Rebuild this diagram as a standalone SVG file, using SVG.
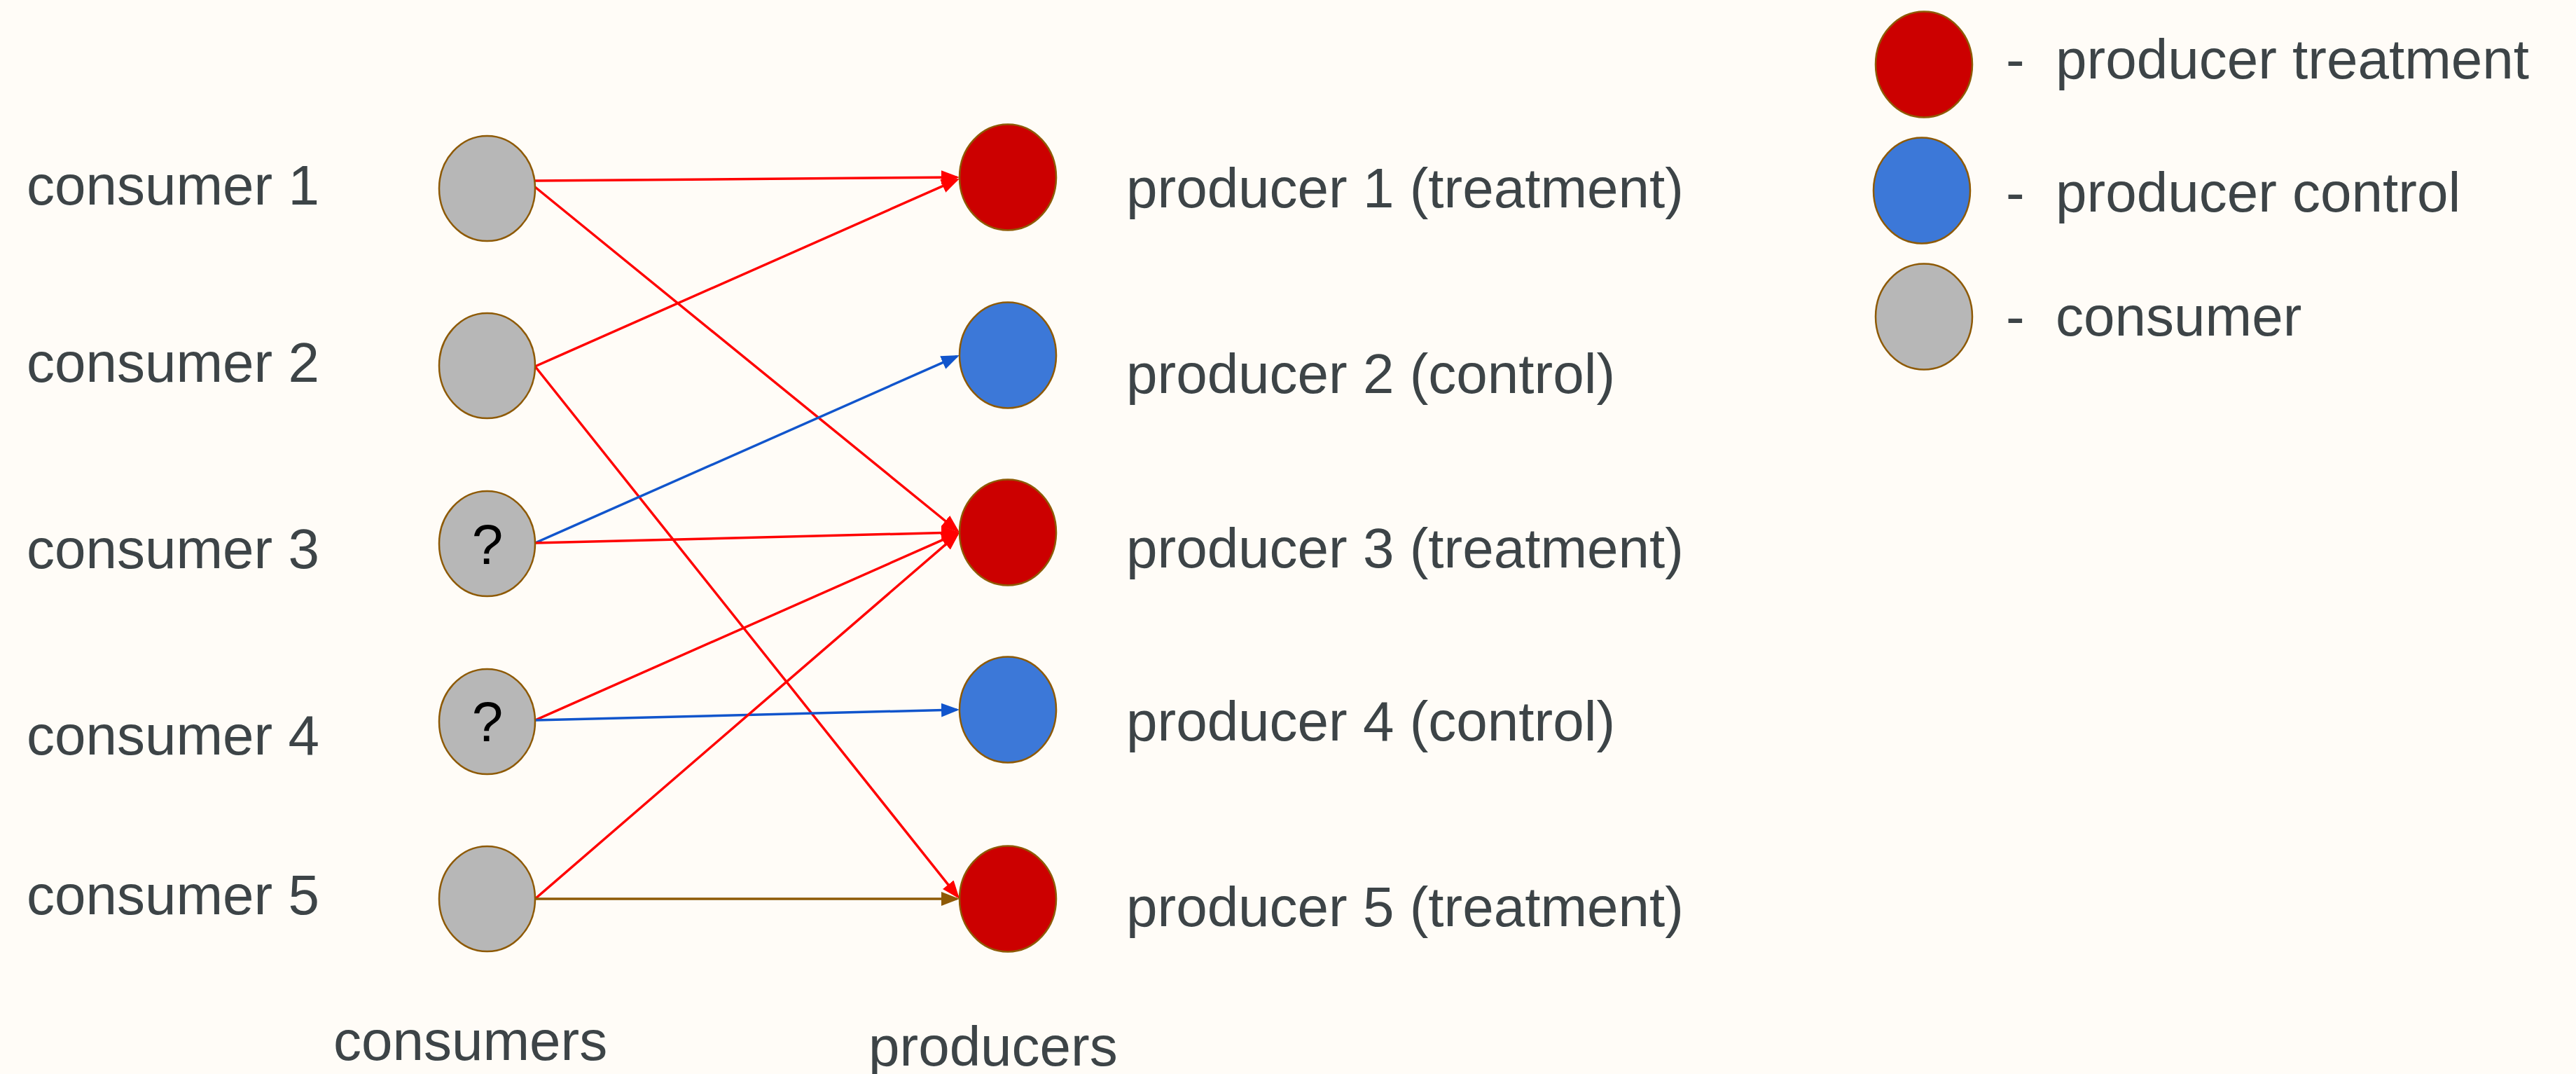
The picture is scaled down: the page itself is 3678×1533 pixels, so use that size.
<svg xmlns="http://www.w3.org/2000/svg" width="3678" height="1533" viewBox="0 0 3678 1533">
<style>
text{font-family:"Liberation Sans",Arial,sans-serif;font-size:80px;fill:#3d4447}
.q{fill:#000;text-anchor:middle}
.pre{white-space:pre}
.nd{stroke:#8e5a06;stroke-width:2.5}
.cons{fill:#b7b7b7}
.trt{fill:#cc0000}
.ctl{fill:#3c78d8}
.e{fill:none;stroke-width:3.5}
.r{stroke:#ff0000}
.b{stroke:#1155cc}
.br{stroke:#8e5a06}
</style>
<defs>
<marker id="ar" markerUnits="userSpaceOnUse" markerWidth="26" markerHeight="20" refX="22" refY="10" orient="auto" viewBox="0 0 26 20"><path d="M0,0 L26,10 L0,20 z" fill="#ff0000"/></marker>
<marker id="ab" markerUnits="userSpaceOnUse" markerWidth="26" markerHeight="20" refX="22" refY="10" orient="auto" viewBox="0 0 26 20"><path d="M0,0 L26,10 L0,20 z" fill="#1155cc"/></marker>
<marker id="abr" markerUnits="userSpaceOnUse" markerWidth="26" markerHeight="20" refX="22" refY="10" orient="auto" viewBox="0 0 26 20"><path d="M0,0 L26,10 L0,20 z" fill="#8e5a06"/></marker>
</defs>
<rect width="3678" height="1533" fill="#fffcf7"/>

<g id="connectors">
<line class="e r" x1="764" y1="258" x2="1366" y2="253" marker-end="url(#ar)"/>
<line class="e r" x1="764" y1="267" x2="1366.9" y2="757.5" marker-end="url(#ar)"/>
<line class="e r" x1="764" y1="523" x2="1366.3" y2="256.6" marker-end="url(#ar)"/>
<line class="e r" x1="764" y1="523" x2="1367.5" y2="1279.9" marker-end="url(#ar)"/>
<line class="e b" x1="764" y1="775" x2="1366.3" y2="508.6" marker-end="url(#ab)"/>
<line class="e r" x1="764" y1="775" x2="1366" y2="760" marker-end="url(#ar)"/>
<line class="e r" x1="764" y1="1028" x2="1366.3" y2="761.6" marker-end="url(#ar)"/>
<line class="e b" x1="764" y1="1028" x2="1366" y2="1013" marker-end="url(#ab)"/>
<line class="e r" x1="764" y1="1283" x2="1367" y2="762.6" marker-end="url(#ar)"/>
<line class="e br" x1="764" y1="1283" x2="1366" y2="1283" marker-end="url(#abr)"/>
</g>

<g id="consumer1"><ellipse class="nd cons" cx="695.5" cy="269" rx="68.5" ry="75"/><text x="38" y="292">consumer 1</text></g>
<g id="consumer2"><ellipse class="nd cons" cx="695.5" cy="522" rx="68.5" ry="75"/><text x="38" y="545">consumer 2</text></g>
<g id="consumer3"><ellipse class="nd cons" cx="695.5" cy="776" rx="68.5" ry="75"/><text class="q" x="696" y="805">?</text><text x="38" y="811">consumer 3</text></g>
<g id="consumer4"><ellipse class="nd cons" cx="695.5" cy="1030" rx="68.5" ry="75"/><text class="q" x="696" y="1058">?</text><text x="38" y="1077">consumer 4</text></g>
<g id="consumer5"><ellipse class="nd cons" cx="695.5" cy="1283" rx="68.5" ry="75"/><text x="38" y="1305">consumer 5</text></g>

<g id="producer1"><ellipse class="nd trt" cx="1439" cy="253" rx="69" ry="75.5"/><text x="1608" y="296">producer 1 (treatment)</text></g>
<g id="producer2"><ellipse class="nd ctl" cx="1439" cy="507" rx="69" ry="75.5"/><text x="1608" y="561">producer 2 (control)</text></g>
<g id="producer3"><ellipse class="nd trt" cx="1439" cy="760" rx="69" ry="75.5"/><text x="1608" y="810">producer 3 (treatment)</text></g>
<g id="producer4"><ellipse class="nd ctl" cx="1439" cy="1013" rx="69" ry="75.5"/><text x="1608" y="1057">producer 4 (control)</text></g>
<g id="producer5"><ellipse class="nd trt" cx="1439" cy="1283" rx="69" ry="75.5"/><text x="1608" y="1322">producer 5 (treatment)</text></g>

<g id="label-consumers"><text x="476" y="1513">consumers</text></g>
<g id="label-producers"><text x="1240" y="1521">producers</text></g>

<g id="legend-treatment"><ellipse class="nd trt" cx="2747" cy="92" rx="69" ry="75.5"/><text class="pre" x="2864" y="112" xml:space="preserve">-  producer treatment</text></g>
<g id="legend-control"><ellipse class="nd ctl" cx="2744" cy="272" rx="69" ry="75.5"/><text class="pre" x="2864" y="302" xml:space="preserve">-  producer control</text></g>
<g id="legend-consumer"><ellipse class="nd cons" cx="2747" cy="452" rx="69" ry="75.5"/><text class="pre" x="2864" y="479" xml:space="preserve">-  consumer</text></g>
</svg>
